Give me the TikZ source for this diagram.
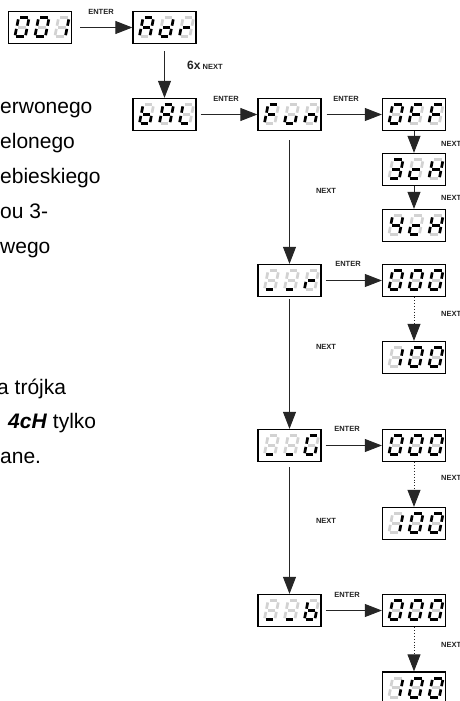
\documentclass[tikz,border=0pt]{standalone}
\usepackage{fontspec}
\setmainfont{Liberation Sans}
\usetikzlibrary{arrows.meta}

\definecolor{segoff}{HTML}{D2D2D2}
\definecolor{lbl}{HTML}{222222}

\tikzset{
  dispbox/.style={draw=black, line width=1.3pt, minimum width=63pt, minimum height=32pt, inner sep=0pt, fill=white},
  segon/.style={draw=black, line width=2.7pt},
  segdim/.style={draw=segoff, line width=2.7pt},
  flow/.style={draw=black!85, line width=0.9pt, -{Triangle[length=17pt,width=13pt]}},
  dotflow/.style={flow, dotted},
  keylbl/.style={font=\bfseries\fontsize{7.5}{9}\selectfont, text=lbl, inner sep=0pt},
  bodytxt/.style={font=\fontsize{21}{25}\selectfont, anchor=base west, inner sep=0pt},
}

% one segment: lit (1) or dim (0)
\newcommand\segpiece[2]{\ifnum#1=1 \draw[segon] #2;\else\draw[segdim] #2;\fi}
% segments in the order a b c d e f g
\def\segparse#1#2#3#4#5#6#7\relax{%
  \segpiece{#1}{(1.6,19)--(8.9,19)}%
  \segpiece{#2}{(10.5,17.4)--(10.5,11.1)}%
  \segpiece{#3}{(10.5,7.9)--(10.5,1.6)}%
  \segpiece{#4}{(1.6,0)--(8.9,0)}%
  \segpiece{#5}{(0,1.6)--(0,7.9)}%
  \segpiece{#6}{(0,11.1)--(0,17.4)}%
  \segpiece{#7}{(1.6,9.5)--(8.9,9.5)}}
\newcommand\segdigit[3]{%
  \begin{scope}[shift={(#1,#2)},xslant=0.2]\segparse#3\relax\end{scope}}
% a three-digit display: name, centre x, centre y (downwards), digits
\newcommand\disp[6]{%
  \node[dispbox] (#1) at (#2,-#3) {};
  \segdigit{#2-25.2}{-#3-9.3}{#4}%
  \segdigit{#2-5.2}{-#3-9.3}{#5}%
  \segdigit{#2+14.8}{-#3-9.3}{#6}}

\begin{document}
\begin{tikzpicture}[x=1pt,y=1pt]
\useasboundingbox (0,0) rectangle (460,-701);
\clip (0,0) rectangle (460,-701);

% side text
\node[bodytxt] (t1) at (0,-113) {erwonego};
\node[bodytxt] (t2) at (0,-148) {elonego};
\node[bodytxt] (t3) at (0,-183) {ebieskiego};
\node[bodytxt] (t4) at (0,-218) {ou 3-};
\node[bodytxt] (t5) at (0,-253) {wego};
\node[bodytxt] (t6) at (-3,-394.5) {a trójka};
\node[bodytxt] (t7) at (8,-428.5) {\textbf{\textit{4cH}} tylko};
\node[bodytxt] (t8) at (0,-463) {ane.};

% displays (bits: a b c d e f g)
\disp{n001}{40}{27.5}{1111110}{1111110}{0110000}
\disp{adr}{164.5}{27.5}{1110111}{0111101}{0000101}
\disp{bal}{164.5}{114.5}{0011111}{1110111}{0001110}
\disp{fun}{289.5}{114.5}{1000111}{0011100}{0010101}
\disp{off}{414}{114.5}{1111110}{1000111}{1000111}
\disp{ch3}{414}{169.5}{1111001}{0001101}{0110111}
\disp{ch4}{414}{225.5}{0110011}{0001101}{0110111}
\disp{rr}{289.5}{280.5}{0001000}{0001000}{0000101}
\disp{r0}{414}{280.5}{1111110}{1111110}{1111110}
\disp{r1}{414}{357.5}{0110000}{1111110}{1111110}
\disp{gg}{289.5}{445.5}{0001000}{0001000}{1011110}
\disp{g0}{414}{445.5}{1111110}{1111110}{1111110}
\disp{g1}{414}{523.5}{0110000}{1111110}{1111110}
\disp{bb}{289.5}{610.5}{0001000}{0001000}{0011111}
\disp{b0}{414}{610.5}{1111110}{1111110}{1111110}
\disp{b1}{414}{688}{0110000}{1111110}{1111110}

% connectors
\draw[flow] ([xshift=8pt]n001.east) -- (adr.west);
\draw[flow] ([yshift=-7pt]adr.south) -- (bal.north);
\draw[flow] ([xshift=4pt]bal.east) -- (fun.west);
\draw[flow] ([xshift=5pt]fun.east) -- (off.west);
\draw[flow] (off.south) -- (ch3.north);
\draw[flow] (ch3.south) -- (ch4.north);
\draw[flow] ([yshift=-9pt]fun.south) -- (rr.north);
\draw[flow] ([xshift=4pt]rr.east) -- (r0.west);
\draw[dotflow] (r0.south) -- (r1.north);
\draw[flow] ([yshift=-2pt]rr.south) -- (gg.north);
\draw[flow] ([xshift=4pt]gg.east) -- (g0.west);
\draw[dotflow] (g0.south) -- (g1.north);
\draw[flow] ([yshift=-5pt]gg.south) -- (bb.north);
\draw[flow] ([xshift=4pt]bb.east) -- (b0.west);
\draw[dotflow] (b0.south) -- (b1.north);

% key labels
\node[keylbl] (e1) at (101,-12) {ENTER};
\node[keylbl] (e2) at (226,-99) {ENTER};
\node[keylbl] (e3) at (346,-99) {ENTER};
\node[keylbl] (e4) at (348,-264) {ENTER};
\node[keylbl] (e5) at (347,-429) {ENTER};
\node[keylbl] (e6) at (347,-595) {ENTER};
\node[keylbl, anchor=west] (x6) at (187,-65) {{\fontsize{12}{14}\selectfont 6x} NEXT};
\node[keylbl, anchor=west] (nr1) at (441,-144) {NEXT};
\node[keylbl, anchor=west] (nr2) at (441,-198) {NEXT};
\node[keylbl, anchor=west] (nr3) at (441,-314) {NEXT};
\node[keylbl, anchor=west] (nr4) at (441,-478) {NEXT};
\node[keylbl, anchor=west] (nr5) at (441,-645) {NEXT};
\node[keylbl] (nm1) at (326,-191) {NEXT};
\node[keylbl] (nm2) at (326,-347) {NEXT};
\node[keylbl] (nm3) at (326,-521) {NEXT};
\end{tikzpicture}
\end{document}
